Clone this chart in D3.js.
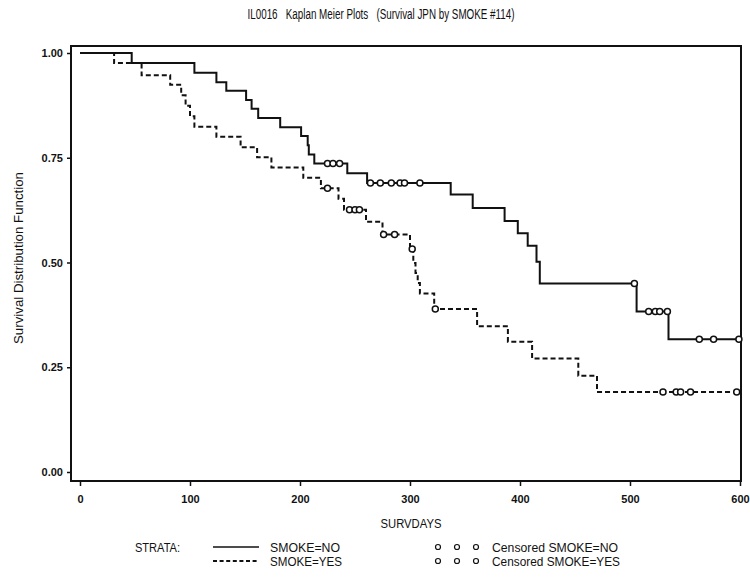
<!DOCTYPE html>
<html>
<head>
<meta charset="utf-8">
<script src="https://cdn.jsdelivr.net/npm/d3@7"></script>
<style>
  body { margin: 0; background: #fff; }
  text { font-family: "Liberation Sans", Arial, sans-serif; fill: #111; }
</style>
</head>
<body>
<div id="chart"></div>
<script>
// Kaplan-Meier estimates
var noDeathTimes = [47, 104, 124, 133, 151, 156, 162, 182, 201, 207, 208, 213, 243, 261, 337, 357, 386, 398, 407, 415, 418, 506, 535];
var noSurvival = [0.976, 0.953, 0.930, 0.910, 0.888, 0.867, 0.845, 0.823, 0.802, 0.780, 0.758, 0.736, 0.713, 0.690, 0.662, 0.630, 0.599, 0.570, 0.540, 0.502, 0.450, 0.383, 0.317];
var noCensored = [225, 230, 236, 264, 273, 283, 291, 295, 309, 504, 517, 523, 527, 534, 563, 576, 599];

var yesDeathTimes = [31, 56, 82, 92, 96, 100, 104, 124, 146, 161, 174, 203, 219, 235, 240, 260, 275, 300, 303, 305, 307, 309, 322, 361, 389, 411, 453, 470];
var yesSurvival = [0.976, 0.947, 0.924, 0.899, 0.874, 0.849, 0.824, 0.800, 0.775, 0.751, 0.727, 0.702, 0.677, 0.652, 0.626, 0.597, 0.567, 0.532, 0.499, 0.475, 0.451, 0.426, 0.389, 0.348, 0.311, 0.271, 0.230, 0.191];
var yesCensored = [225, 245, 250, 254, 276, 286, 302, 323, 530, 542, 546, 555, 597];

var xTicks = [0, 100, 200, 300, 400, 500, 600];
var yTicks = [0, 0.25, 0.5, 0.75, 1.0];

var svgWidth = 750;
var svgHeight = 580;
var frame = { left: 71, top: 46, right: 741, bottom: 481 };

var svg = d3.select("#chart")
  .append("svg")
  .attr("width", svgWidth)
  .attr("height", svgHeight);

var x = d3.scaleLinear().domain([0, 600]).range([80, 740]);
var y = d3.scaleLinear().domain([0, 1]).range([472, 53]);

// step points: start at 1.0, each death, then carry to last censored time
function stepPoints(times, surv, cens) {
  var pts = [[0, 1]];
  times.forEach(function(t, i) { pts.push([t, surv[i]]); });
  var end = d3.max(cens.concat(times));
  pts.push([end, surv[surv.length - 1]]);
  return pts;
}

function survAt(times, surv, t) {
  var s = 1;
  times.forEach(function(d, i) { if (d <= t) s = surv[i]; });
  return s;
}

// squeezed text, the scan uses a very narrow font
function narrowText(g, tx, ty, str, size, len, anchor) {
  return g.append("text")
    .attr("x", tx)
    .attr("y", ty)
    .attr("text-anchor", anchor || "start")
    .attr("textLength", len)
    .attr("lengthAdjust", "spacingAndGlyphs")
    .style("font-size", size + "px")
    .text(str);
}

// title
narrowText(svg, 381, 19, "IL0016   Kaplan Meier Plots   (Survival JPN by SMOKE #114)", 14, 267, "middle")
  .attr("xml:space", "preserve");

// frame
svg.append("rect")
  .attr("x", frame.left)
  .attr("y", frame.top)
  .attr("width", frame.right - frame.left)
  .attr("height", frame.bottom - frame.top)
  .attr("fill", "none")
  .attr("stroke", "#111")
  .attr("stroke-width", 2);

// axes
var leftAxis = d3.axisLeft(y).tickValues(yTicks).tickSize(4).tickFormat(d3.format(".2f"));
var gy = svg.append("g")
  .attr("transform", "translate(" + frame.left + ",0)")
  .call(leftAxis);
gy.select(".domain").remove();
gy.selectAll("text").style("font-size", "11px").style("font-weight", "bold").attr("x", -8);
gy.selectAll("line").attr("stroke", "#111").attr("stroke-width", 1.5);

var bottomAxis = d3.axisBottom(x).tickValues(xTicks).tickSize(5);
var gx = svg.append("g")
  .attr("transform", "translate(0," + frame.bottom + ")")
  .call(bottomAxis);
gx.select(".domain").remove();
gx.selectAll("text").style("font-size", "11px").style("font-weight", "bold").attr("y", 14);
gx.selectAll("line").attr("stroke", "#111").attr("stroke-width", 1.5);

narrowText(svg, 411, 528, "SURVDAYS", 12, 61, "middle");

narrowText(svg.append("g").attr("transform", "translate(23,258) rotate(-90)"),
  0, 0, "Survival Distribution Function", 12, 172, "middle");

// curves
var line = d3.line()
  .x(function(d) { return x(d[0]); })
  .y(function(d) { return y(d[1]); })
  .curve(d3.curveStepAfter);

svg.append("path")
  .datum(stepPoints(noDeathTimes, noSurvival, noCensored))
  .attr("d", line)
  .attr("fill", "none")
  .attr("stroke", "#111")
  .attr("stroke-width", 2);

svg.append("path")
  .datum(stepPoints(yesDeathTimes, yesSurvival, yesCensored))
  .attr("d", line)
  .attr("fill", "none")
  .attr("stroke", "#111")
  .attr("stroke-width", 2)
  .attr("stroke-dasharray", "5,3");

// censored marks
svg.selectAll(".cens-no")
  .data(noCensored)
  .enter()
  .append("circle")
  .attr("class", "cens-no")
  .attr("cx", function(d) { return x(d); })
  .attr("cy", function(d) { return y(survAt(noDeathTimes, noSurvival, d)); })
  .attr("r", 3)
  .attr("fill", "#fff")
  .attr("stroke", "#111")
  .attr("stroke-width", 1.5);

svg.selectAll(".cens-yes")
  .data(yesCensored)
  .enter()
  .append("circle")
  .attr("class", "cens-yes")
  .attr("cx", function(d) { return x(d); })
  .attr("cy", function(d) { return y(survAt(yesDeathTimes, yesSurvival, d)); })
  .attr("r", 3)
  .attr("fill", "#fff")
  .attr("stroke", "#111")
  .attr("stroke-width", 1.5);

// legend
var legend = svg.append("g");
narrowText(legend, 135, 552, "STRATA:", 12, 45);

legend.append("line").attr("x1", 213).attr("x2", 259).attr("y1", 547).attr("y2", 547)
  .attr("stroke", "#111").attr("stroke-width", 1.5);
legend.append("line").attr("x1", 213).attr("x2", 259).attr("y1", 561).attr("y2", 561)
  .attr("stroke", "#111").attr("stroke-width", 2).attr("stroke-dasharray", "4,2.6");
narrowText(legend, 270, 552, "SMOKE=NO", 12, 70);
narrowText(legend, 270, 566, "SMOKE=YES", 12, 72);

[547, 561].forEach(function(ly, i) {
  [438, 457, 476].forEach(function(lx) {
    legend.append("circle").attr("cx", lx).attr("cy", ly).attr("r", 2.5)
      .attr("fill", "#fff").attr("stroke", "#111").attr("stroke-width", 1.2);
  });
  narrowText(legend, 492, ly + 5, i === 0 ? "Censored SMOKE=NO" : "Censored SMOKE=YES", 12, i === 0 ? 126 : 128);
});
</script>
</body>
</html>
